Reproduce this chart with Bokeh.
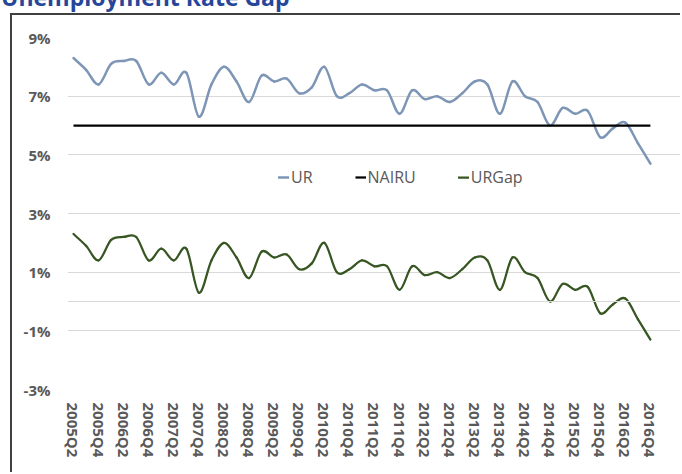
from bokeh.plotting import figure
from bokeh.models import (Range1d, FixedTicker, Span, Div,
                          Legend, LegendItem, ColumnDataSource)
from bokeh.embed import file_html
from bokeh.resources import INLINE

# ---------------- data ----------------
QUARTERS = ["2005Q2", "2005Q3", "2005Q4", "2006Q1", "2006Q2", "2006Q3", "2006Q4",
            "2007Q1", "2007Q2", "2007Q3", "2007Q4", "2008Q1", "2008Q2", "2008Q3",
            "2008Q4", "2009Q1", "2009Q2", "2009Q3", "2009Q4", "2010Q1", "2010Q2",
            "2010Q3", "2010Q4", "2011Q1", "2011Q2", "2011Q3", "2011Q4", "2012Q1",
            "2012Q2", "2012Q3", "2012Q4", "2013Q1", "2013Q2", "2013Q3", "2013Q4",
            "2014Q1", "2014Q2", "2014Q3", "2014Q4", "2015Q1", "2015Q2", "2015Q3",
            "2015Q4", "2016Q1", "2016Q2", "2016Q3", "2016Q4"]

UR = [8.3, 7.9, 7.4, 8.1, 8.2, 8.2, 7.4, 7.8, 7.4, 7.8, 6.3, 7.4, 8.0, 7.5,
      6.8, 7.7, 7.5, 7.6, 7.1, 7.3, 8.0, 7.0, 7.1, 7.4, 7.2, 7.2, 6.4, 7.2,
      6.9, 7.0, 6.8, 7.1, 7.5, 7.4, 6.4, 7.5, 7.0, 6.8, 6.0, 6.6, 6.4, 6.5,
      5.6, 5.9, 6.1, 5.4, 4.7]

NAIRU = [6.0] * 47

URGAP = [2.3, 1.9, 1.4, 2.1, 2.2, 2.2, 1.4, 1.8, 1.4, 1.8, 0.3, 1.4, 2.0, 1.5,
         0.8, 1.7, 1.5, 1.6, 1.1, 1.3, 2.0, 1.0, 1.1, 1.4, 1.2, 1.2, 0.4, 1.2,
         0.9, 1.0, 0.8, 1.1, 1.5, 1.4, 0.4, 1.5, 1.0, 0.8, 0.0, 0.6, 0.4, 0.5,
         -0.4, -0.1, 0.1, -0.6, -1.3]

Y_TICKS = [-3, -1, 1, 3, 5, 7, 9]
Y_LABELS = ["-3%", "-1%", "1%", "3%", "5%", "7%", "9%"]

TITLE = "Unemployment Rate Gap"

# ---------------- styling ----------------
C_UR = "#7E96B6"
C_NAIRU = "#000000"
C_GAP = "#375623"
GRID = "#D9D9D9"
TXT = "#595959"
FONT = "Open Sans"
BORDER = "2px solid #404040"

# chart area starts at (10, 13) with a 2px border; canvas starts at (12, 15)
W, H = 670, 459

p = figure(width=W, height=H, output_backend="svg", toolbar_location=None,
           x_range=Range1d(-0.478, 48.56), y_range=Range1d(-3, 9),
           min_border_left=55, min_border_right=0, min_border_top=22,
           min_border_bottom=85, margin=(13, 0, 0, 10),
           styles={"border-left": BORDER, "border-top": BORDER,
                   "border-right": "0px none", "border-bottom": "0px none",
                   "overflow": "hidden", "outline": "none",
                   "box-shadow": "none"})
p.outline_line_color = None
p.background_fill_color = "white"
p.border_fill_color = "white"

x_idx = list(range(len(QUARTERS)))


def smooth_source(ys):
    n = len(ys)
    d = dict(x0=[], y0=[], x1=[], y1=[], cx0=[], cy0=[], cx1=[], cy1=[])
    for i in range(n - 1):
        pm = max(i - 1, 0)
        pp = min(i + 2, n - 1)
        d["x0"].append(x_idx[i]); d["y0"].append(ys[i])
        d["x1"].append(x_idx[i + 1]); d["y1"].append(ys[i + 1])
        d["cx0"].append(x_idx[i] + (x_idx[i + 1] - x_idx[pm]) / 6)
        d["cy0"].append(ys[i] + (ys[i + 1] - ys[pm]) / 6)
        d["cx1"].append(x_idx[i + 1] - (x_idx[pp] - x_idx[i]) / 6)
        d["cy1"].append(ys[i + 1] - (ys[pp] - ys[i]) / 6)
    return ColumnDataSource(d)


# zero axis line
p.add_layout(Span(location=0, dimension="width", line_color=GRID, line_width=1))

r_ur = p.bezier(x0="x0", y0="y0", x1="x1", y1="y1", cx0="cx0", cy0="cy0",
                cx1="cx1", cy1="cy1", source=smooth_source(UR),
                line_color=C_UR, line_width=2.5, line_cap="round")
r_na = p.line(x_idx, NAIRU, line_color=C_NAIRU, line_width=2.25)
r_gap = p.bezier(x0="x0", y0="y0", x1="x1", y1="y1", cx0="cx0", cy0="cy0",
                 cx1="cx1", cy1="cy1", source=smooth_source(URGAP),
                 line_color=C_GAP, line_width=2.25, line_cap="round")

# axes
p.yaxis.ticker = FixedTicker(ticks=Y_TICKS)
p.yaxis.major_label_overrides = {t: l for t, l in zip(Y_TICKS, Y_LABELS)}
p.xaxis.ticker = FixedTicker(ticks=x_idx[::2])
p.xaxis.major_label_overrides = {i: QUARTERS[i] for i in x_idx[::2]}
p.xaxis.major_label_orientation = "vertical"

for ax in (p.xaxis, p.yaxis):
    ax.axis_line_color = None
    ax.major_tick_line_color = None
    ax.minor_tick_line_color = None
    ax.major_tick_out = 0
    ax.major_tick_in = 0
    ax.minor_tick_out = 0
    ax.major_label_text_font = FONT
    ax.major_label_text_font_style = "bold"
    ax.major_label_text_font_size = "15px"
    ax.major_label_text_color = TXT
p.yaxis.major_label_standoff = 17
p.xaxis.major_label_standoff = 13

p.xgrid.visible = False
p.ygrid.ticker = FixedTicker(ticks=Y_TICKS)
p.ygrid.grid_line_color = GRID
p.ygrid.grid_line_width = 1

# legend
legend = Legend(items=[LegendItem(label="UR", renderers=[r_ur]),
                       LegendItem(label="NAIRU", renderers=[r_na]),
                       LegendItem(label="URGap", renderers=[r_gap])],
                orientation="horizontal", location=(211, 201), padding=0,
                margin=0, spacing=42, glyph_width=11, glyph_height=16,
                label_standoff=2, label_text_font=FONT,
                label_text_font_size="16px", label_text_color=TXT,
                background_fill_alpha=0, border_line_color=None)
p.add_layout(legend)

# title above the chart area; the picture crops its upper part, as in the reference
title = Div(text=TITLE,
            styles={"position": "absolute", "left": "1px", "top": "-15px",
                    "font-family": FONT, "font-weight": "bold",
                    "font-size": "23px", "line-height": "24px",
                    "color": "#25469A", "white-space": "nowrap",
                    "margin": "0", "padding": "0"})

open("out.html", "w").write(file_html([p, title], INLINE))
